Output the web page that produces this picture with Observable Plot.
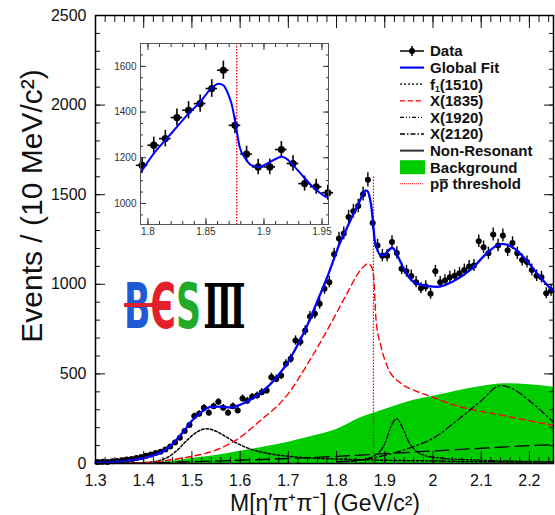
<!DOCTYPE html>
<html><head><meta charset="utf-8">
<script src="https://cdn.jsdelivr.net/npm/d3@7"></script>
<script src="https://cdn.jsdelivr.net/npm/@observablehq/plot@0.6"></script>
<style>
body{margin:0;background:#fff;}
#wrap{position:relative;width:555px;height:515px;overflow:hidden;background:#fff;}
#main,#inset,#overlay{position:absolute;left:0;top:0;}
#inset{left:110px;top:30px;}
</style></head><body>
<div id="wrap"><div id="main"></div><div id="inset"></div><svg id="overlay" width="555" height="515"></svg></div>
<script>
// ---- Data (10 MeV/c^2 bins) ----
const massBins = [1.305,1.315,1.325,1.335,1.345,1.355,1.365,1.375,1.385,1.395,
1.405,1.415,1.425,1.435,1.445,1.455,1.465,1.475,1.485,1.495,
1.505,1.515,1.525,1.535,1.545,1.555,1.565,1.575,1.585,1.595,
1.605,1.615,1.625,1.635,1.645,1.655,1.665,1.675,1.685,1.695,
1.705,1.715,1.725,1.735,1.745,1.755,1.765,1.775,1.785,1.795,
1.805,1.815,1.825,1.835,1.845,1.855,1.865,1.875,1.885,1.895,
1.905,1.915,1.925,1.935,1.945,1.955,1.965,1.975,1.985,1.995,
2.005,2.015,2.025,2.035,2.045,2.055,2.065,2.075,2.085,2.095,
2.105,2.115,2.125,2.135,2.145,2.155,2.165,2.175,2.185,2.195,
2.205,2.215,2.225,2.235,2.245];
const counts = [8,10,8,12,14,18,22,25,30,36,
43,50,58,65,78,95,117,144,181,215,
265,278,311,283,320,344,311,283,320,296,
363,350,372,379,398,407,482,472,491,556,
584,686,679,742,820,835,891,975,1012,1167,
1255,1284,1376,1408,1437,1503,1583,1342,1216,1160,
1160,1236,1175,1087,1073,1047,1012,978,988,947,
1073,1012,1021,1040,1048,1062,1080,1099,1105,1240,
1207,1173,1278,1217,1273,1190,1230,1173,1136,1124,
1080,1048,1040,950,965];

// ---- Global fit ----
const fitMass = [1.30,1.34,1.38,1.40,1.42,1.44,1.46,1.48,1.50,1.52,1.54,1.56,1.58,1.60,1.62,1.64,1.66,1.68,1.70,1.72,1.74,1.76,1.78,1.795,
1.805,1.815,1.825,1.835,1.845,1.853,1.861,1.865,1.869,1.872,1.876,1.879,1.884,1.889,1.896,1.903,1.911,1.915,1.919,1.925,1.934,1.942,1.951,1.956,
1.965,1.99,2.01,2.045,2.08,2.114,2.142,2.17,2.197,2.225,2.25];
const fitValues = [5,9,20,30,45,68,110,170,238,288,316,317,312,328,355,390,435,495,570,665,775,905,1035,1145,
1218,1277,1335,1393,1444,1495,1524,1517,1481,1437,1335,1248,1197,1168,1160,1175,1197,1204,1197,1168,1117,1073,1036,1022,
1005,990,986,1021,1086,1179,1226,1198,1123,1031,960];

// ---- Components ----
const f1Mass = [1.30,1.40,1.43,1.45,1.47,1.49,1.51,1.53,1.55,1.57,1.59,1.62,1.66,1.70,1.75,1.80,1.90,2.00,2.10,2.25];
const f1Values = [0,5,15,35,75,130,175,194,180,150,118,82,55,40,30,25,18,14,10,8];
const x1835Mass = [1.30,1.40,1.45,1.49,1.55,1.59,1.64,1.70,1.74,1.79,1.82,1.85,1.865,1.872,1.877,1.882,1.8925,1.906,1.934,1.962,1.99,2.059,2.128,2.197,2.25];
const x1835Values = [0,5,18,35,75,128,235,390,556,790,940,1080,1115,1100,1040,800,650,537,446,407,379,314,277,240,212];
const x1920Mass = [1.80,1.85,1.88,1.90,1.915,1.925,1.935,1.95,1.97,2.00,2.10,2.25];
const x1920Values = [10,20,45,110,220,250,210,120,60,35,18,10];
const x2120Mass = [1.80,1.85,1.90,1.95,2.00,2.05,2.10,2.14,2.17,2.20,2.25];
const x2120Values = [8,20,45,85,140,240,350,435,410,350,230];
const nonResMass = [1.30,1.40,1.50,1.60,1.70,1.80,1.90,2.00,2.10,2.20,2.25];
const nonResValues = [0,3,10,18,28,40,55,70,85,100,105];
const bkgMass = [1.40,1.45,1.50,1.55,1.60,1.65,1.70,1.75,1.80,1.85,1.90,1.95,2.00,2.05,2.10,2.15,2.20,2.25];
const bkgValues = [0,10,28,45,68,92,119,152,190,255,302,345,375,405,430,445,440,426];
const pbarThreshold = 1.8765;
const thresholdTop = 1600;

// ---- Tick labels ----
const xTicks = [1.3,1.4,1.5,1.6,1.7,1.8,1.9,2.0,2.1,2.2];
const yTicks = [0,500,1000,1500,2000,2500];
const insetXTicks = [1.8,1.85,1.9,1.95];
const insetYTicks = [1000,1200,1400,1600];

const xTitle = "M[η′π⁺π⁻] (GeV/c²)";
const yTitle = "Events / (10 MeV/c²)";
const legendLabels = ["Data","Global Fit","f1(1510)","X(1835)","X(1920)","X(2120)","Non-Resonant","Background","pp threshold"];

// ---- build tables ----
const zip = (ms, vs) => ms.map((m,i)=>({m, v: vs[i]}));
const data = massBins.map((m,i)=>({m, n: counts[i], e: Math.sqrt(counts[i])}));
const fit = zip(fitMass, fitValues);
const FONT = "'Liberation Sans', Arial, Helvetica, sans-serif";
const fmt = d3.format("~g");
const yMinor = d3.range(0, 2501, 100);
const xMinor = d3.range(1.30, 2.2501, 0.02);

const comp = (ms, vs, stroke, dash, w) => Plot.line(zip(ms, vs), {x:"m", y:"v", stroke, strokeDasharray: dash, strokeWidth: w, curve:"monotone-x"});

const main = Plot.plot({
  width: 555, height: 515,
  marginLeft: 95, marginRight: 2, marginTop: 15, marginBottom: 52,
  x: {domain: [1.3, 2.25]},
  y: {domain: [0, 2500]},
  style: {fontFamily: FONT, background: "transparent", color: "#111"},
  marks: [
    Plot.areaY(zip(bkgMass, bkgValues), {x:"m", y:"v", fill:"#00cc00", curve:"monotone-x"}),
    comp(nonResMass, nonResValues, "#000", "14,6", 1.3),
    comp(f1Mass, f1Values, "#000", "2.5,2", 1.5),
    comp(x1835Mass, x1835Values, "#ff0000", "6,4", 1.4),
    comp(x1920Mass, x1920Values, "#000", "6,2,1.5,2,1.5,2", 1.3),
    comp(x2120Mass, x2120Values, "#000", "7,3,1.5,3", 1.3),
    Plot.ruleX([pbarThreshold], {y1: 0, y2: thresholdTop, stroke: "#ff0000", strokeWidth: 1.2, strokeDasharray: "1.5,1.5"}),
    Plot.ruleX(data, {x:"m", y1: d=>d.n-d.e, y2: d=>d.n+d.e, stroke:"#000", strokeWidth:1.4}),
    Plot.ruleY(data, {y:"n", x1: d=>d.m-0.005, x2: d=>d.m+0.005, stroke:"#000", strokeWidth:1.4}),
    Plot.dot(data, {x:"m", y:"n", r:3, fill:"#000"}),
    Plot.line(fit, {x:"m", y:"v", stroke:"#0000ff", strokeWidth:2.3, curve:"monotone-x"}),
    Plot.axisY({ticks: yTicks, tickSize: -10, tickPadding: 19, fontSize: 16, tickFormat: fmt, label: null}),
    Plot.axisY({ticks: yMinor, tickSize: -5, tickFormat: () => "", label: null}),
    Plot.axisY({anchor: "right", ticks: yTicks, tickSize: -10, tickFormat: () => "", label: null}),
    Plot.axisY({anchor: "right", ticks: yMinor, tickSize: -5, tickFormat: () => "", label: null}),
    Plot.axisX({ticks: xTicks, tickSize: -12, tickPadding: 23, fontSize: 16, tickFormat: fmt, label: null}),
    Plot.axisX({ticks: xMinor, tickSize: -6, tickFormat: () => "", label: null}),
    Plot.axisX({anchor: "top", ticks: xTicks, tickSize: -12, tickFormat: () => "", label: null}),
    Plot.axisX({anchor: "top", ticks: xMinor, tickSize: -6, tickFormat: () => "", label: null}),
    Plot.frame({stroke: "#000", strokeWidth: 1.5})
  ]
});
document.getElementById("main").appendChild(main);

// ---- Inset ----
const insetData = data.filter(d => d.m > 1.79 && d.m < 1.96);
const inset = Plot.plot({
  width: 225, height: 210,
  marginLeft: 30, marginRight: 7, marginTop: 13, marginBottom: 16,
  x: {domain: [1.7936, 1.9556]},
  y: {domain: [908, 1700]},
  style: {fontFamily: FONT, background: "transparent", color: "#333"},
  marks: [
    Plot.frame({fill: "#fff", stroke: "none"}),
    Plot.ruleX([pbarThreshold], {stroke: "#ff0000", strokeWidth: 1.3, strokeDasharray: "1.5,1.5"}),
    Plot.ruleX(insetData, {x:"m", y1: d=>d.n-d.e, y2: d=>d.n+d.e, stroke:"#000", strokeWidth:1.6}),
    Plot.ruleY(insetData, {y:"n", x1: d=>d.m-0.005, x2: d=>d.m+0.005, stroke:"#000", strokeWidth:1.6}),
    Plot.dot(insetData, {x:"m", y:"n", r:3.6, fill:"#000"}),
    Plot.line(fit, {x:"m", y:"v", stroke:"#0000ff", strokeWidth:2, curve:"monotone-x", clip: true}),
    Plot.axisY({ticks: insetYTicks, tickSize: -6, tickPadding: 10, fontSize: 10, tickFormat: fmt, label: null}),
    Plot.axisY({ticks: d3.range(950, 1700, 50), tickSize: -3, tickFormat: () => "", label: null}),
    Plot.axisY({anchor: "right", ticks: insetYTicks, tickSize: -6, tickFormat: () => "", label: null}),
    Plot.axisY({anchor: "right", ticks: d3.range(950, 1700, 50), tickSize: -3, tickFormat: () => "", label: null}),
    Plot.axisX({ticks: insetXTicks, tickSize: -6, tickPadding: 9, fontSize: 10, tickFormat: fmt, label: null}),
    Plot.axisX({ticks: d3.range(1.80, 1.955, 0.01), tickSize: -3, tickFormat: () => "", label: null}),
    Plot.axisX({anchor: "top", ticks: insetXTicks, tickSize: -6, tickFormat: () => "", label: null}),
    Plot.axisX({anchor: "top", ticks: d3.range(1.80, 1.955, 0.01), tickSize: -3, tickFormat: () => "", label: null}),
    Plot.frame({stroke: "#555", strokeWidth: 1})
  ]
});
document.getElementById("inset").appendChild(inset);

// ---- Overlay: axis titles, legend, logo ----
const ov = d3.select("#overlay").style("font-family", FONT);
ov.append("text").attr("x", 325).attr("y", 503).attr("dy", "0.34em").attr("text-anchor", "middle")
  .attr("font-size", 23).attr("fill", "#111").text(xTitle);
ov.append("text").attr("transform", "translate(31,206) rotate(-90)").attr("dy", "0.36em").attr("text-anchor", "middle")
  .attr("font-size", 30).attr("fill", "#111").text(yTitle);

const rowY0 = 51, rowDy = 16.6, sx0 = 400, sx1 = 424, tx = 430;
const samples = [
  {kind:"data"},
  {kind:"line", stroke:"#0000ff", dash:null, w:2.2},
  {kind:"line", stroke:"#000", dash:"2,2", w:1.3},
  {kind:"line", stroke:"#ff0000", dash:"5,3", w:1.3},
  {kind:"line", stroke:"#000", dash:"4,2,1,2,1,2", w:1.3},
  {kind:"line", stroke:"#000", dash:"5,2,1.5,2", w:1.3},
  {kind:"line", stroke:"#333", dash:null, w:2},
  {kind:"box"},
  {kind:"line", stroke:"#ff0000", dash:"1,1", w:1}
];
legendLabels.forEach((lab, i) => {
  const y = rowY0 + i * rowDy;
  const s = samples[i];
  if (s.kind === "data") {
    ov.append("line").attr("x1", sx0).attr("x2", sx1).attr("y1", y).attr("y2", y).attr("stroke", "#000").attr("stroke-width", 1.5);
    ov.append("line").attr("x1", (sx0+sx1)/2).attr("x2", (sx0+sx1)/2).attr("y1", y-5).attr("y2", y+5).attr("stroke", "#000").attr("stroke-width", 1.5);
    ov.append("circle").attr("cx", (sx0+sx1)/2).attr("cy", y).attr("r", 3).attr("fill", "#000");
  } else if (s.kind === "box") {
    ov.append("rect").attr("x", sx0).attr("y", y-7).attr("width", sx1-sx0+1).attr("height", 14).attr("fill", "#00cc00");
  } else {
    ov.append("line").attr("x1", sx0).attr("x2", sx1).attr("y1", y).attr("y2", y).attr("stroke", s.stroke).attr("stroke-width", s.w).attr("stroke-dasharray", s.dash);
  }
  const t = ov.append("text").attr("x", tx).attr("y", y).attr("dy", "0.36em").attr("font-size", 15).attr("font-weight", "bold").attr("fill", "#111");
  if (i === 2) {
    t.append("tspan").text("f");
    t.append("tspan").attr("font-size", 8.5).attr("dy", 2).text("1");
    t.append("tspan").attr("dy", -2).text("(1510)");
  } else {
    t.text(lab);
  }
  if (i === 8) {
    // overline over the second "p" (antiproton)
    const node = t.node();
    const p0 = node.getStartPositionOfChar(1).x;
    const w = node.getSubStringLength(1, 1);
    ov.append("line").attr("x1", p0 + 0.5).attr("x2", p0 + w - 0.5).attr("y1", y - 4).attr("y2", y - 4)
      .attr("stroke", "#111").attr("stroke-width", 1.4);
  }
});

// BESIII logo
const logo = ov.append("g").attr("transform", "translate(124,328) scale(0.56,1)");
const lt = logo.append("text").attr("font-size", 62).attr("font-weight", "bold").attr("font-family", "'DejaVu Sans', 'Liberation Sans', sans-serif");
lt.append("tspan").attr("fill", "#1f5ad6").text("B");
lt.append("tspan").attr("fill", "#e3202a").text("Є");
lt.append("tspan").attr("fill", "#1faa2a").text("S");
lt.append("tspan").attr("fill", "#000").attr("font-family", "'DejaVu Serif', 'Liberation Serif', serif").attr("dx", 4).text("Ⅲ");
ov.append("line").attr("x1", 124).attr("x2", 158).attr("y1", 305).attr("y2", 305).attr("stroke", "#e3202a").attr("stroke-width", 4);
</script>
</body></html>
